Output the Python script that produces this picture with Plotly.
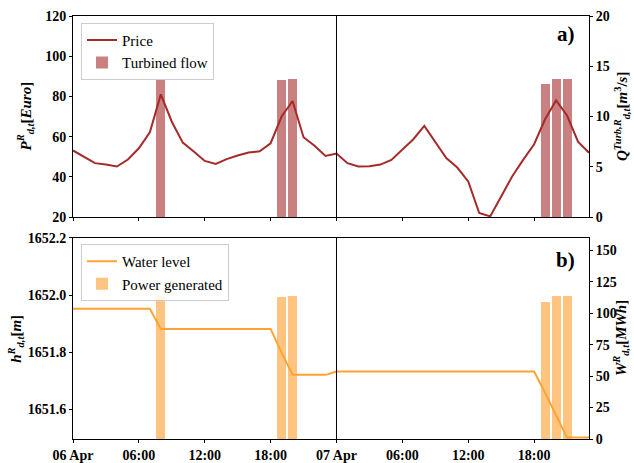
import pandas as pd
import plotly.graph_objects as go

# ---------------- data ----------------
hours = pd.date_range("2023-04-06 00:00", periods=48, freq="h")

price = [53.1, 50.1, 46.8, 46.1, 45.1, 48.6, 54.2, 62.1, 81.0, 67.4, 57.0, 52.6,
         47.9, 46.4, 48.8, 50.6, 52.1, 52.7, 56.7, 70.0, 77.7, 59.7, 55.5, 50.4,
         51.6, 46.8, 45.1, 45.3, 46.1, 48.4, 53.4, 58.7, 65.3, 57.0, 49.3, 44.6,
         37.7, 22.0, 20.3, 30.2, 40.2, 48.4, 56.2, 68.6, 78.0, 70.5, 57.5, 52.0]

turbined_flow = [0, 0, 0, 0, 0, 0, 0, 0, 13.75, 0, 0, 0,
                 0, 0, 0, 0, 0, 0, 0, 13.65, 13.75, 0, 0, 0,
                 0, 0, 0, 0, 0, 0, 0, 0, 0, 0, 0, 0,
                 0, 0, 0, 0, 0, 0, 0, 13.2, 13.75, 13.75, 0, 0]

water_level = [1651.952] * 8 + [1651.881] * 11 + [1651.798] + [1651.720] * 4 + \
              [1651.732] * 19 + [1651.657, 1651.580, 1651.50, 1651.50, 1651.50]

power = [0, 0, 0, 0, 0, 0, 0, 0, 113.8, 0, 0, 0,
         0, 0, 0, 0, 0, 0, 0, 113.3, 113.8, 0, 0, 0,
         0, 0, 0, 0, 0, 0, 0, 0, 0, 0, 0, 0,
         0, 0, 0, 0, 0, 0, 0, 109.2, 113.8, 113.8, 0, 0]

tick_vals = ["2023-04-06 00:00", "2023-04-06 06:00", "2023-04-06 12:00", "2023-04-06 18:00",
             "2023-04-07 00:00", "2023-04-07 06:00", "2023-04-07 12:00", "2023-04-07 18:00"]
tick_labels = ["06 Apr", "06:00", "12:00", "18:00", "07 Apr", "06:00", "12:00", "18:00"]
day_split = "2023-04-07 00:00"

title_price = "<i>P</i><sup><i>R</i></sup><sub><i>d,t</i></sub>[<i>Euro</i>]"
title_flow = "<i>Q</i><sup><i>Turb,R</i></sup><sub><i>d,t</i></sub>[<i>m</i><sup>3</sup>/<i>s</i>]"
title_level = "<i>h</i><sup><i>R</i></sup><sub><i>d,t</i></sub>[<i>m</i>]"
title_power = "<i>W</i><sup><i>R</i></sup><sub><i>d,t</i></sub>[<i>MWh</i>]"

# ---------------- styles ----------------
FONT = "Liberation Serif"
PRICE_C = "#a52a2a"
FLOW_C = "#c98080"
LEVEL_C = "#ffa234"
POWER_C = "#ffc580"
BAR_W = 0.82 * 3600 * 1000

fig = go.Figure()

# top panel: line on overlay axis (y2, left) so it draws above bars (y, right)
fig.add_trace(go.Scatter(x=hours, y=price, mode="lines", name="Price",
                         line=dict(color=PRICE_C, width=2), xaxis="x", yaxis="y2",
                         legend="legend"))
fig.add_trace(go.Bar(x=hours, y=turbined_flow, name="Turbined flow", width=BAR_W,
                     marker=dict(color=FLOW_C, line=dict(width=0)), xaxis="x", yaxis="y",
                     legend="legend"))

# bottom panel
fig.add_trace(go.Scatter(x=hours, y=water_level, mode="lines", name="Water level",
                         line=dict(color=LEVEL_C, width=2), xaxis="x2", yaxis="y4",
                         legend="legend2"))
fig.add_trace(go.Bar(x=hours, y=power, name="Power generated", width=BAR_W,
                     marker=dict(color=POWER_C, line=dict(width=0)), xaxis="x2", yaxis="y3",
                     legend="legend2"))

tickfont = dict(family=FONT, size=14, color="black", weight="bold")
titlefont = dict(family=FONT, size=15, color="black", weight="bold")
legendfont = dict(family=FONT, size=15, color="black")

x_common = dict(type="date", range=[hours[0], hours[-1]], tickvals=tick_vals,
                showline=True, linecolor="black", linewidth=1, mirror=True,
                ticks="outside", ticklen=3, tickcolor="black", showgrid=False,
                zeroline=False, tickfont=tickfont, automargin=False)
y_common = dict(showline=True, linecolor="black", linewidth=1, ticks="outside",
                ticklen=3, tickcolor="black", showgrid=False, zeroline=False,
                tickfont=tickfont, automargin=False)

top_dom = [0.5248, 1.0]
bot_dom = [0.0, 0.4752]
top_mid = sum(top_dom) / 2
bot_mid = sum(bot_dom) / 2

def axis_title(text, x, y):
    return dict(text=text, xref="paper", yref="paper", x=x, y=y, textangle=-90,
                xanchor="center", yanchor="middle", showarrow=False, font=titlefont)

fig.update_layout(
    width=634, height=463,
    margin=dict(l=73, r=45, t=16, b=24),
    paper_bgcolor="white", plot_bgcolor="white",
    bargap=0,
    xaxis=dict(**x_common, domain=[0, 1], anchor="y", showticklabels=False),
    xaxis2=dict(**x_common, domain=[0, 1], anchor="y3", ticktext=tick_labels),
    yaxis=dict(**y_common, domain=top_dom, anchor="x", side="right", range=[0, 20],
               tickvals=[0, 5, 10, 15, 20]),
    yaxis2=dict(**y_common, overlaying="y", anchor="x", side="left", range=[20, 120],
                tickvals=[20, 40, 60, 80, 100, 120]),
    yaxis3=dict(**y_common, domain=bot_dom, anchor="x2", side="right", range=[0, 160],
                tickvals=[0, 25, 50, 75, 100, 125, 150]),
    yaxis4=dict(**y_common, overlaying="y3", anchor="x2", side="left",
                range=[1651.495, 1652.2], tickvals=[1651.6, 1651.8, 1652.0, 1652.2],
                tickformat=".1f"),
    legend=dict(x=0.0155, y=0.984, xanchor="left", yanchor="top",
                bgcolor="rgba(255,255,255,0.85)", bordercolor="#cccccc", borderwidth=1,
                font=legendfont, tracegroupgap=2, itemwidth=30),
    legend2=dict(x=0.0155, y=0.461, xanchor="left", yanchor="top",
                 bgcolor="rgba(255,255,255,0.85)", bordercolor="#cccccc", borderwidth=1,
                 font=legendfont, tracegroupgap=2, itemwidth=30),
    showlegend=True,
    shapes=[
        dict(type="line", xref="x", yref="y domain", x0=day_split, x1=day_split, y0=0, y1=1,
             line=dict(color="black", width=1)),
        dict(type="line", xref="x2", yref="y3 domain", x0=day_split, x1=day_split, y0=0, y1=1,
             line=dict(color="black", width=1)),
    ],
    annotations=[
        dict(text="<b>a)</b>", xref="paper", yref="paper", x=0.977, y=0.957,
             xanchor="right", yanchor="middle", showarrow=False,
             font=dict(family=FONT, size=21, color="black")),
        dict(text="<b>b)</b>", xref="paper", yref="paper", x=0.977, y=0.424,
             xanchor="right", yanchor="middle", showarrow=False,
             font=dict(family=FONT, size=21, color="black")),
        axis_title(title_price, -0.093, top_mid),
        axis_title(title_level, -0.11, bot_mid),
        axis_title(title_flow, 1.063, top_mid),
        axis_title(title_power, 1.063, bot_mid),
    ],
)

fig.write_html("out.html")
